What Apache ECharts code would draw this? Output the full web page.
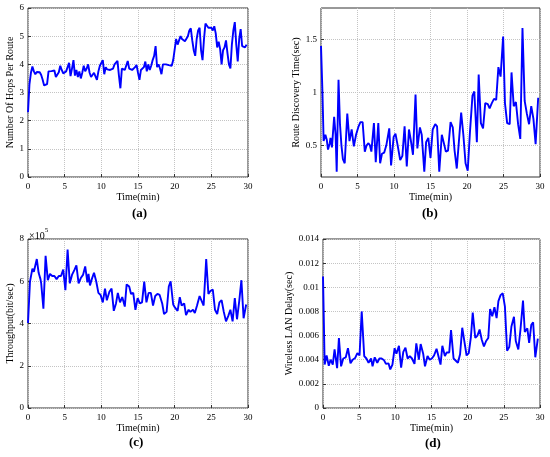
<!DOCTYPE html>
<html style="height: 100%">
<head>
  <meta charset="utf-8">
</head>
<body style="height: 100%; margin: 0; background: #fff">
  <div id="container" style="width: 550px; height: 457px"></div>
  <script src="https://cdn.jsdelivr.net/npm/echarts@6/dist/echarts.min.js"></script>
  <script>
    // (a) hops per route, sampled every 0.2 min
    var hopsStep = 0.2;
    var hopsValue = [
      2.3, 3.3, 3.7, 3.92, 3.75, 3.65, 3.73, 3.75, 3.72, 3.62, 3.45, 3.25, 3.22, 3.3, 3.75, 3.77, 3.76, 3.75, 3.78, 3.55, 3.62, 3.72, 3.95, 3.8, 3.68,
      3.65, 3.75, 3.9, 4.05, 3.58, 3.85, 4.15, 3.6, 3.8, 3.55, 3.75, 3.5, 3.7, 3.95, 3.75, 3.85, 4.0, 3.7, 3.55, 3.6, 3.7, 3.72, 3.45, 3.75, 3.95,
      4.05, 4.15, 3.65, 3.9, 3.82, 3.78, 3.8, 3.75, 3.85, 4.0, 4.0, 4.12, 3.6, 3.15, 3.85, 3.85, 3.8, 3.75, 4.12, 3.85, 3.78, 3.8, 3.85, 3.9, 3.98,
      3.7, 3.45, 3.8, 3.85, 3.9, 4.1, 3.75, 4.0, 3.8, 3.95, 4.15, 4.3, 4.65, 3.9, 4.0, 3.85, 3.65, 4.0, 3.95, 4.0, 3.95, 3.97, 3.93, 3.95, 4.15,
      4.2, 4.9, 4.7, 4.85, 5.0, 4.9, 4.85, 4.82, 4.8, 5.0, 5.2, 5.28, 4.85, 4.5, 4.3, 4.9, 5.2, 5.3, 4.5, 4.15, 4.9, 5.45, 5.4, 5.3, 5.35,
      5.3, 5.2, 5.35, 5.1, 4.6, 4.8, 4.55, 4.0, 4.5, 4.6, 4.85, 4.4, 4.0, 3.85, 4.7, 5.2, 5.5, 4.7, 4.1, 4.9, 5.25, 4.65, 4.6, 4.6, 4.7
    ];

    // (b) route discovery time (sec)
    var discTime = [
      0, 0.2, 0.36, 0.6, 0.8, 0.96, 1.2, 1.3, 1.5, 1.8, 2.0, 2.15, 2.4, 2.6, 2.8, 3.0, 3.25, 3.6, 3.9, 4.2,
      4.5, 4.8, 5.15, 5.4, 5.7, 6.0, 6.25, 6.5, 6.7, 6.9, 7.25, 7.5, 7.85, 8.1, 8.35, 8.65, 8.95, 9.35, 9.6, 9.95,
      10.2, 10.5, 10.85, 11.15, 11.45, 11.75, 12.05, 12.3, 12.6, 12.95, 13.2, 13.55, 13.8, 14.15, 14.4, 14.7, 15.0, 15.3, 15.65, 15.9,
      16.2, 16.55, 16.8, 17.1, 17.4, 17.75, 18.05, 18.3, 18.6, 19.2, 19.5, 19.8, 20.1, 20.4, 20.75, 21.0, 21.35, 21.6, 21.9, 22.2,
      22.5, 22.85, 23.1, 23.4, 23.7, 24.0, 24.3, 24.6, 24.95, 25.2, 25.5, 25.85, 26.1, 26.4, 26.7, 27.0, 27.3, 27.6, 27.9, 28.2,
      28.5, 28.8, 29.1, 29.4, 29.75
    ];
    var discValue = [
      1.44, 1.0, 0.54, 0.6, 0.55, 0.46, 0.52, 0.57, 0.48, 0.77, 0.6, 0.25, 1.12, 0.7, 0.5, 0.37, 0.33, 0.8, 0.54, 0.65,
      0.49, 0.6, 0.68, 0.72, 0.72, 0.44, 0.5, 0.52, 0.5, 0.44, 0.71, 0.34, 0.71, 0.33, 0.42, 0.43, 0.5, 0.66, 0.31, 0.58,
      0.61, 0.5, 0.36, 0.4, 0.68, 0.3, 0.65, 0.55, 0.41, 0.98, 0.47, 0.67, 0.6, 0.25, 0.53, 0.57, 0.38, 0.65, 0.7, 0.68,
      0.25, 0.6, 0.53, 0.44, 0.45, 0.72, 0.67, 0.45, 0.28, 0.81, 0.6, 0.33, 0.26, 0.62, 0.97, 1.01, 0.53, 1.17, 0.71, 0.66,
      0.9, 0.89, 0.85, 0.9, 0.94, 0.93, 1.24, 1.15, 1.53, 0.9, 0.71, 0.7, 1.19, 0.87, 0.91, 0.7, 0.56, 1.61, 0.92, 0.8,
      0.7, 0.87, 0.75, 0.51, 0.95
    ];

    // (c) throughput, in units of 10^5 bit/sec
    var thrTime = [
      0, 0.27, 0.6, 0.8, 1.0, 1.2, 1.45, 1.7, 1.8, 2.1, 2.4, 2.7, 3.0, 3.3, 3.6, 3.9, 4.2, 4.5, 4.8, 5.1,
      5.4, 5.7, 6.0, 6.35, 6.6, 6.9, 7.2, 7.5, 7.8, 8.1, 8.25, 8.45, 8.7, 9.0, 9.3, 9.6, 9.9, 10.2, 10.5, 10.75,
      11.1, 11.4, 11.7, 12.0, 12.25, 12.55, 12.85, 13.2, 13.45, 13.8, 14.05, 14.35, 14.65, 14.95, 15.25, 15.55, 15.85, 16.15, 16.45, 16.75,
      17.05, 17.35, 17.65, 17.95, 18.3, 18.55, 18.9, 19.2, 19.45, 19.8, 20.05, 20.4, 20.7, 20.95, 21.3, 21.55, 21.9, 22.15, 22.5, 22.75,
      23.05, 23.4, 23.65, 23.95, 24.3, 24.6, 24.9, 25.2, 25.5, 25.8, 26.1, 26.4, 26.7, 27.0, 27.3, 27.6, 27.9, 28.2, 28.5, 28.8,
      29.1, 29.4, 29.75
    ];
    var thrValue = [
      4.02, 5.98, 6.6, 6.45, 6.5, 7.05, 6.4, 6.1, 5.9, 4.7, 7.2, 6.05, 6.35, 6.25, 6.25, 6.1, 6.25, 6.25, 6.55, 5.58,
      7.5, 5.9, 6.3, 6.55, 6.75, 5.9, 6.15, 6.3, 6.7, 5.95, 6.35, 5.8, 6.1, 6.4, 6.0, 5.45, 5.35, 5.0, 5.65, 5.1,
      5.5, 5.65, 4.6, 4.95, 5.45, 5.0, 5.25, 4.8, 5.85, 5.75, 5.4, 5.45, 4.65, 5.2, 4.95, 5.0, 5.98, 5.0, 5.45, 5.45,
      4.85, 5.3, 5.4, 5.35, 4.95, 4.45, 4.55, 5.75, 6.0, 4.9, 4.75, 4.6, 5.25, 4.85, 4.95, 4.4, 4.65, 4.55, 4.65, 4.5,
      4.85, 5.3, 5.35, 4.85, 7.05, 5.4, 5.55, 5.6, 4.65, 4.45, 5.0, 5.1, 4.55, 4.1, 4.35, 4.65, 4.1, 5.2, 4.2, 5.05,
      6.05, 4.25, 4.9
    ];

    // (d) wireless LAN delay, in milliseconds
    var delayTime = [
      0, 0.23, 0.5, 0.8, 1.05, 1.35, 1.6, 1.95, 2.2, 2.5, 2.8, 3.15, 3.45, 3.8, 4.1, 4.45, 4.75, 5.05, 5.35, 5.7,
      6.0, 6.3, 6.65, 6.85, 7.15, 7.5, 7.8, 8.1, 8.45, 8.7, 9.05, 9.3, 9.6, 9.9, 10.15, 10.5, 10.8, 11.1, 11.4, 11.7,
      12.0, 12.3, 12.65, 12.9, 13.25, 13.5, 13.85, 14.1, 14.45, 14.75, 15.05, 15.35, 15.7, 15.95, 16.25, 16.5, 16.85, 17.1, 17.45, 17.7,
      18.05, 18.3, 18.65, 18.95, 19.25, 19.55, 19.85, 20.15, 20.45, 20.7, 21.05, 21.35, 21.65, 21.95, 22.25, 22.55, 22.85, 23.1, 23.4, 23.7,
      24.0, 24.25, 24.55, 24.85, 25.15, 25.45, 25.75, 26.05, 26.4, 26.65, 27.0, 27.3, 27.65, 27.9, 28.25, 28.5, 28.8, 29.05, 29.35, 29.7
    ];
    var delayMs = [
      10.9, 3.6, 4.35, 3.5, 4.0, 3.6, 4.85, 3.3, 5.8, 3.45, 4.1, 4.2, 4.95, 3.7, 4.0, 4.15, 4.55, 4.35, 8.0, 4.3,
      4.1, 3.75, 4.1, 3.45, 4.2, 3.75, 4.1, 4.1, 3.95, 3.65, 3.7, 3.2, 3.6, 4.95, 4.5, 5.15, 3.35, 4.65, 5.0, 4.1,
      4.3, 4.1, 3.65, 5.35, 4.0, 5.3, 4.5, 3.45, 4.3, 4.0, 4.1, 4.35, 4.9, 4.85, 3.6, 5.15, 4.3, 4.6, 4.6, 6.45,
      4.1, 4.05, 3.75, 4.45, 6.65, 5.5, 4.35, 4.55, 5.9, 7.9, 5.8, 6.0, 6.5, 5.65, 5.1, 5.55, 5.8, 8.2, 7.6, 8.35,
      7.45, 8.85, 9.35, 9.5, 8.4, 4.75, 5.05, 6.75, 7.55, 5.55, 4.85, 6.5, 8.9, 6.3, 6.6, 5.4, 6.9, 7.1, 4.2, 5.75
    ];

    function pairs(times, values) {
      return values.map(function (v, i) { return [times[i], v]; });
    }
    var hopsTime = hopsValue.map(function (v, i) { return +(i * hopsStep).toFixed(1); });
    var delaySec = delayMs.map(function (v) { return v / 1000; });

    var serif = 'Liberation Serif';
    var labelStyle = { fontFamily: serif, fontSize: 9, color: '#000', margin: 4 };
    var nameStyle = { fontFamily: serif, fontSize: 10, color: '#000' };
    var gridLine = { show: true, lineStyle: { color: '#c4c4c4', type: 'dotted', width: 1 } };

    function xAxisFor(idx) {
      return {
        type: 'value', gridIndex: idx, min: 0, max: 30, interval: 5,
        name: 'Time(min)', nameLocation: 'middle', nameGap: 13, nameTextStyle: nameStyle,
        axisLine: { show: false },
        axisTick: { inside: true, length: 3, lineStyle: { color: '#333' } },
        axisLabel: Object.assign({}, labelStyle, { margin: 5 }),
        splitLine: gridLine
      };
    }
    function yAxisFor(idx, name, gap, extra) {
      return Object.assign({
        type: 'value', gridIndex: idx,
        name: name, nameLocation: 'middle', nameGap: gap, nameTextStyle: nameStyle,
        axisLine: { show: false },
        axisTick: { inside: true, length: 3, lineStyle: { color: '#333' } },
        axisLabel: labelStyle,
        splitLine: gridLine
      }, extra);
    }
    function lineSeries(idx, data) {
      return {
        type: 'line', xAxisIndex: idx, yAxisIndex: idx, data: data,
        showSymbol: false, symbol: 'none', animation: false,
        lineStyle: { color: '#0000ff', width: 1.9 }
      };
    }
    function caption(text, x, y) {
      return {
        type: 'text', left: x, top: y,
        style: { text: text, fontFamily: serif, fontSize: 13, fontWeight: 'bold', fill: '#000', textAlign: 'center' }
      };
    }

    var gridBox = { show: true, borderColor: '#333', borderWidth: 1, backgroundColor: '#fff' };

    var chart = echarts.init(document.getElementById('container'));
    chart.setOption({
      backgroundColor: '#fff',
      animation: false,
      grid: [
        Object.assign({ left: 28, top: 8, width: 220, height: 169 }, gridBox),
        Object.assign({ left: 321, top: 8, width: 219, height: 169 }, gridBox),
        Object.assign({ left: 28, top: 239, width: 220, height: 169 }, gridBox),
        Object.assign({ left: 323, top: 239, width: 217, height: 169 }, gridBox)
      ],
      xAxis: [xAxisFor(0), xAxisFor(1), xAxisFor(2), xAxisFor(3)],
      yAxis: [
        yAxisFor(0, 'Number Of Hops Per Route', 9, { min: 0, max: 6, interval: 1 }),
        yAxisFor(1, 'Route Discovery Time(sec)', 15, {
          min: 0.2, max: 1.8,
          axisTick: { inside: true, length: 3, lineStyle: { color: '#333' }, customValues: [0.5, 1, 1.5] },
          axisLabel: Object.assign({ customValues: [0.5, 1, 1.5] }, labelStyle)
        }),
        yAxisFor(2, 'Throughput(bit/sec)', 9, { min: 0, max: 8, interval: 2 }),
        yAxisFor(3, 'Wireless LAN Delay(sec)', 25, { min: 0, max: 0.014, interval: 0.002 })
      ],
      series: [
        lineSeries(0, pairs(hopsTime, hopsValue)),
        lineSeries(1, pairs(discTime, discValue)),
        lineSeries(2, pairs(thrTime, thrValue)),
        lineSeries(3, pairs(delayTime, delaySec))
      ],
      graphic: [
        caption('(a)', 132, 207),
        caption('(b)', 422, 207),
        caption('(c)', 129, 436),
        caption('(d)', 425, 437),
        {
          type: 'text', left: 29, top: 227,
          style: {
            text: '{m|×10}{s|5}',
            rich: {
              m: { fontFamily: serif, fontSize: 10, fill: '#000', padding: [4, 0, 0, 0] },
              s: { fontFamily: serif, fontSize: 7, fill: '#000', verticalAlign: 'top' }
            }
          }
        }
      ]
    });
  </script>
</body>
</html>
